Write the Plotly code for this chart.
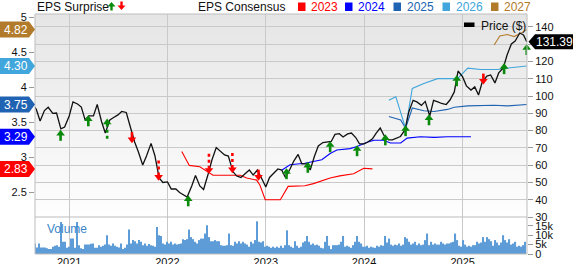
import plotly.graph_objects as go
import pandas as pd

# ---------------- DATA ----------------
price_dates = (["2020-08-27"]
               + [d.strftime("%Y-%m-%d") for d in pd.date_range("2020-09-01", "2025-08-15", freq="SMS")]
               + ["2025-08-27"])
price_values = [
    93.5,
    92.2, 85.6, 91.6, 93.5, 90.0, 90.2, 81.0, 82.1,
    88.5, 96.6, 95.4, 93.6, 86.2, 88.5, 88.5, 95.1, 85.3, 78.6, 86.2, 87.6,
    89.1, 91.1, 90.5, 82.7, 73.4, 67.6, 60.1, 65.3, 72.6, 65.6, 52.6, 50.0,
    50.3, 46.2, 46.2, 44.2, 43.0, 41.6, 48.0, 54.0, 48.0, 45.9, 54.9, 63.0,
    70.2, 68.5, 65.9, 65.3, 56.3, 53.7, 52.9, 54.9, 57.2, 54.3, 57.2, 52.9,
    47.4, 52.9, 55.5, 57.8, 57.2, 52.9, 57.8, 62.4, 66.2, 60.7, 60.7, 57.2,
    65.3, 71.1, 73.1, 73.4, 73.7, 77.8, 78.2, 76.3, 78.1, 78.6, 76.0, 72.3,
    72.3, 73.4, 75.2, 78.6, 81.5, 77.2, 74.6, 74.6, 75.7, 76.6, 80.4, 90.8,
    97.5, 96.6, 94.6, 96.9, 88.5, 97.5, 96.6, 95.7, 95.1, 97.7, 102.4, 114.5,
    111.1, 105.9, 103.5, 105.3, 100.6, 108.2, 111.6, 112.2, 107.6, 113.4, 116.3, 123.8,
    130.2, 131.9, 136.5, 135.4,
    131.39,
]
last_price = 131.39

eps_2023_dates = ["2022-02-23", "2022-03-23", "2022-05-01", "2022-06-01", "2022-06-19", "2022-09-28",
                  "2022-10-22", "2022-11-28", "2022-12-10", "2022-12-30", "2023-02-24", "2023-03-25",
                  "2023-05-26", "2023-06-27", "2023-08-28", "2023-10-03", "2023-11-23", "2023-12-31",
                  "2024-02-01"]
eps_2023 = [3.08, 2.88, 2.86, 2.79, 2.74, 2.74, 2.70, 2.67, 2.60, 2.39, 2.39, 2.58,
            2.59, 2.62, 2.70, 2.73, 2.76, 2.84, 2.83]

eps_2024_dates = ["2023-03-01", "2023-04-01", "2023-05-26", "2023-06-28", "2023-07-28", "2023-08-28",
                  "2023-09-22", "2023-11-10", "2023-12-06", "2024-01-19", "2024-02-07", "2024-03-13",
                  "2024-04-08", "2024-05-16", "2024-06-09", "2024-07-28", "2024-09-17", "2024-11-06",
                  "2025-02-01"]
eps_2024 = [2.81, 2.89, 2.91, 2.94, 2.96, 3.05, 3.10, 3.12, 3.15, 3.22, 3.24, 3.24,
            3.20, 3.20, 3.27, 3.29, 3.28, 3.29, 3.29]

eps_2025_dates = ["2024-04-02", "2024-05-16", "2024-06-03", "2024-06-28", "2024-08-10", "2024-09-17",
                  "2024-11-06", "2024-12-01", "2025-01-20", "2025-03-09", "2025-04-28", "2025-06-16",
                  "2025-08-27"]
eps_2025 = [3.58, 3.53, 3.41, 3.70, 3.66, 3.65, 3.68, 3.71, 3.73, 3.74, 3.74, 3.73, 3.75]

eps_2026_dates = ["2024-04-02", "2024-04-28", "2024-06-03", "2024-06-28", "2024-08-10", "2024-09-30",
                  "2024-12-13", "2025-01-20", "2025-03-09", "2025-05-10", "2025-06-16", "2025-08-27"]
eps_2026 = [3.81, 3.86, 3.41, 3.98, 4.05, 4.12, 4.12, 4.27, 4.25, 4.25, 4.27, 4.30]

eps_2027_dates = ["2025-04-28", "2025-05-19", "2025-06-16", "2025-07-11", "2025-08-06", "2025-08-27"]
eps_2027 = [4.60, 4.73, 4.75, 4.72, 4.77, 4.82]

eps_years = ["2023", "2024", "2025", "2026", "2027"]
eps_current = [2.83, 3.29, 3.75, 4.30, 4.82]

surprise_dates = ["2020-11-30", "2021-03-13", "2021-05-22", "2021-08-22", "2021-11-29", "2022-03-19",
                  "2022-06-04", "2022-08-30", "2022-12-05", "2023-03-19", "2023-06-06", "2023-08-28",
                  "2023-12-06", "2024-03-20", "2024-06-03", "2024-08-29", "2024-12-10", "2025-03-19",
                  "2025-06-04", "2025-08-27"]
surprise_price = [78.3, 86.7, 84.8, 74.9, 53.2, 40.4, 57.2, 57.5, 53.2, 56.1, 59.8, 71.7,
                  69.4, 75.7, 81.0, 87.3, 109.9, 108.8, 116.9, 127.9]
surprise_dir = ["up", "up", "up", "down", "down", "up", "down", "down", "down", "up", "up", "up",
                "up", "up", "up", "up", "up", "down", "up", "up"]
surprise_big = [False, False, True, False, True, False, True, True, False, False, False, False,
                False, False, False, False, False, False, False, False]

# weekly volume in thousands
volume_k = [
    5.6, 3.5, 5.6, 3.5, 3.5, 3.5, 3.0, 2.6, 2.6, 3.9, 4.4, 4.7, 3.9, 17, 6.5,
    6.5, 3.3, 3.9, 8.2, 8.2, 3.3, 17, 4.7, 3.0, 2.6, 5.0, 5.0, 5.0, 5.4, 5.6,
    3.3, 3.3, 4.7, 3.9, 4.4, 5.0, 10, 5.0, 4.4, 5.6, 4.4, 3.9, 3.5, 5.6, 2.6,
    3.3, 5.0, 13, 5.6, 7.4, 6.8, 5.6, 7.4, 6.5, 4.7, 5.6, 4.4, 5.3, 4.7, 4.4,
    3.9, 14.4, 10, 9.6, 5.6, 5.0, 6.5, 5.6, 6.5, 5.0, 5.6, 5.0, 5.3, 5.6, 7.9,
    7.4, 7.9, 13, 9.0, 7.9, 6.5, 5.6, 7.4, 8.2, 8.2, 10.9, 15.3, 9.0, 6.8, 6.8,
    7.4, 6.8, 6.8, 4.7, 4.4, 4.4, 4.7, 10.9, 4.7, 4.4, 6.5, 5.6, 6.8, 5.6, 6.5,
    5.6, 5.0, 3.9, 6.5, 5.6, 7.4, 17.4, 6.5, 6.1, 6.8, 3.9, 4.4, 3.9, 3.3, 3.9,
    3.3, 3.9, 3.3, 4.4, 3.3, 4.7, 12.6, 4.7, 3.9, 3.3, 6.8, 4.4, 3.3, 3.9, 6.1,
    6.8, 9.6, 6.5, 5.0, 5.6, 4.7, 5.0, 4.4, 3.3, 3.0, 6.5, 9.6, 4.4, 2.6, 4.7,
    4.7, 4.7, 5.0, 6.5, 9.6, 3.9, 4.4, 3.9, 3.3, 4.7, 6.5, 9.6, 6.5, 5.6, 3.9,
    3.9, 4.4, 3.3, 3.9, 3.5, 3.3, 4.4, 3.9, 4.7, 4.4, 9.6, 6.1, 8.2, 5.0, 4.4,
    5.0, 4.7, 5.6, 4.4, 5.0, 9.0, 8.2, 6.5, 5.0, 5.6, 6.5, 4.7, 5.6, 4.7, 5.0,
    7.4, 10.9, 4.7, 6.5, 5.0, 5.6, 5.0, 5.0, 6.5, 5.6, 5.0, 5.6, 5.6, 6.1, 6.5,
    10.9, 7.4, 4.4, 3.9, 7.4, 5.0, 3.9, 4.4, 3.9, 4.7, 4.7, 6.5, 5.6, 6.1, 9.0,
    6.5, 9.0, 7.9, 6.8, 4.4, 7.4, 6.1, 4.7, 6.1, 10, 7.4, 6.1, 7.9, 5.0, 5.6,
    6.5, 3.9, 4.4, 3.9, 4.7, 6.5,
]
volume_dates = pd.date_range("2020-08-28", "2025-08-22", periods=len(volume_k))

price_ticks = [30, 40, 50, 60, 70, 80, 90, 100, 110, 120, 130, 140]
eps_ticks = [2.5, 3, 3.5, 4, 4.5, 5]
vol_ticks = [0, 5, 10, 15]
vol_tick_text = ["0", "5k", "10k", "15k"]

# ---------------- STYLE / LAYOUT ----------------
FONT = "Liberation Sans, Arial, Helvetica, sans-serif"
W, H = 573, 264
ML, MR, MT, MB = 35, 46, 14, 10
PW, PH = W - ML - MR, H - MT - MB
SPLIT = (MT + PH - 217) / PH  # price/volume boundary (paper)
PRICE_RANGE = [30, 147.5]
EPS_RANGE = [2.143, 5.043]
VOL_RANGE = [0, 19.7]
X_RANGE = ["2020-08-27", "2025-08-28"]

col = {"2023": "#ff0000", "2024": "#0000ff", "2025": "#2063b2", "2026": "#40a6db", "2027": "#b27b2c"}
GREEN, RED = "#0a8a0a", "#ff0000"
GRID = "#c9c9c9"


def pxx(px):
    return (px - ML) / PW


def pxy(py):
    return (MT + PH - py) / PH


def eps_paper(e):
    return SPLIT + (e - EPS_RANGE[0]) / (EPS_RANGE[1] - EPS_RANGE[0]) * (1 - SPLIT)


def price_paper(p):
    return SPLIT + (p - PRICE_RANGE[0]) / (PRICE_RANGE[1] - PRICE_RANGE[0]) * (1 - SPLIT)


fig = go.Figure()

# volume
fig.add_trace(go.Bar(x=volume_dates, y=volume_k, xaxis="x2", yaxis="y2",
                     marker=dict(color="#5d9cd6", line_width=0), width=5.2 * 86400000,
                     showlegend=False, hoverinfo="skip"))

# EPS consensus lines (base axis y, left)
for yr, d, v in [("2023", eps_2023_dates, eps_2023), ("2024", eps_2024_dates, eps_2024),
                 ("2025", eps_2025_dates, eps_2025), ("2026", eps_2026_dates, eps_2026),
                 ("2027", eps_2027_dates, eps_2027)]:
    fig.add_trace(go.Scatter(x=d, y=v, mode="lines", line=dict(color=col[yr], width=1.1),
                             xaxis="x", yaxis="y", showlegend=False, hoverinfo="skip"))

# price (overlay axis y3, right)
fig.add_trace(go.Scatter(x=price_dates, y=price_values, mode="lines",
                         line=dict(color="#111111", width=1.3), xaxis="x", yaxis="y3",
                         showlegend=False, hoverinfo="skip"))

# surprise arrows
for direction, color, sym in [("up", GREEN, "triangle-up"), ("down", RED, "triangle-down")]:
    for big in [False, True]:
        sx, sy = [], []
        for d, p, dr, b in zip(surprise_dates, surprise_price, surprise_dir, surprise_big):
            if dr != direction or b != big:
                continue
            sgn = -1 if dr == "up" else 1
            length = 9.0 if b else 3.4
            sx += [d, d, None]
            sy += [p + sgn * 0.8, p + sgn * (0.8 + length), None]
        if sx:
            fig.add_trace(go.Scatter(x=sx, y=sy, mode="lines", xaxis="x", yaxis="y3",
                                     line=dict(color=color, width=2.6, dash="dot" if big else "solid"),
                                     showlegend=False, hoverinfo="skip"))
    hx = [d for d, dr in zip(surprise_dates, surprise_dir) if dr == direction]
    hy = [p for p, dr in zip(surprise_price, surprise_dir) if dr == direction]
    fig.add_trace(go.Scatter(x=hx, y=hy, mode="markers", xaxis="x", yaxis="y3",
                             marker=dict(symbol=sym, size=7.5, color=color, line_width=0),
                             showlegend=False, hoverinfo="skip", cliponaxis=False))

shapes = []
# gradient background of price panel
N = 40
for i in range(N):
    t = (i + 0.5) / N
    c = int(round(254 - (254 - 229) * t))
    shapes.append(dict(type="rect", xref="paper", yref="paper", x0=0, x1=1,
                       y0=SPLIT + (1 - SPLIT) * i / N, y1=min(1, SPLIT + (1 - SPLIT) * (i + 1) / N + 0.003),
                       fillcolor=f"rgb({c},{c},{c})", line_width=0, layer="below"))
# frame and separator
shapes.append(dict(type="rect", xref="paper", yref="paper", x0=0, x1=1, y0=0, y1=1,
                   line=dict(color="#bdbdbd", width=1), fillcolor="rgba(0,0,0,0)", layer="above"))
shapes.append(dict(type="line", xref="paper", yref="paper", x0=0, x1=1, y0=SPLIT, y1=SPLIT,
                   line=dict(color="#bdbdbd", width=1), layer="above"))

annotations = []

# EPS badges (left)
for yr, e in zip(eps_years, eps_current):
    yc = eps_paper(e)
    hh = 8 / PH
    x0, x1, xt = pxx(0), pxx(29), pxx(35)
    shapes.append(dict(type="path", xref="paper", yref="paper",
                       path=f"M{x0},{yc + hh} L{x1},{yc + hh} L{xt},{yc} L{x1},{yc - hh} L{x0},{yc - hh} Z",
                       fillcolor=col[yr], line_width=0, layer="above"))
    annotations.append(dict(xref="paper", yref="paper", x=pxx(15.5), y=yc, text=f"{e:.2f}",
                            showarrow=False, xanchor="center", yanchor="middle",
                            font=dict(family=FONT, size=12, color="white")))

# price badge (right)
yc = price_paper(last_price)
hh = 7.5 / PH
xt, x1, x2 = pxx(528.5), pxx(535), pxx(575)
shapes.append(dict(type="path", xref="paper", yref="paper",
                   path=f"M{xt},{yc} L{x1},{yc + hh} L{x2},{yc + hh} L{x2},{yc - hh} L{x1},{yc - hh} Z",
                   fillcolor="#000000", line_width=0, layer="above"))
annotations.append(dict(xref="paper", yref="paper", x=pxx(554), y=yc, text=f"{last_price:.2f}",
                        showarrow=False, xanchor="center", yanchor="middle",
                        font=dict(family=FONT, size=12, color="white")))

# top legend
annotations.append(dict(xref="paper", yref="paper", x=pxx(34.5), y=pxy(7), text="EPS Surprise",
                        showarrow=False, xanchor="left", yanchor="middle",
                        font=dict(family=FONT, size=12, color="#111111")))
# legend arrows
ax0 = 111.5
shapes.append(dict(type="path", xref="paper", yref="paper",
                   path=f"M{pxx(ax0 - 4)},{pxy(6.5)} L{pxx(ax0)},{pxy(2)} L{pxx(ax0 + 4)},{pxy(6.5)} Z",
                   fillcolor=GREEN, line_width=0))
shapes.append(dict(type="rect", xref="paper", yref="paper", x0=pxx(ax0 - 1.2), x1=pxx(ax0 + 1.2),
                   y0=pxy(10.5), y1=pxy(6), fillcolor=GREEN, line_width=0))
ax1 = 121.5
shapes.append(dict(type="path", xref="paper", yref="paper",
                   path=f"M{pxx(ax1 - 4)},{pxy(5.5)} L{pxx(ax1)},{pxy(10)} L{pxx(ax1 + 4)},{pxy(5.5)} Z",
                   fillcolor=RED, line_width=0))
shapes.append(dict(type="rect", xref="paper", yref="paper", x0=pxx(ax1 - 1.2), x1=pxx(ax1 + 1.2),
                   y0=pxy(6), y1=pxy(1.5), fillcolor=RED, line_width=0))

annotations.append(dict(xref="paper", yref="paper", x=pxx(196), y=pxy(7), text="EPS Consensus",
                        showarrow=False, xanchor="left", yanchor="middle",
                        font=dict(family=FONT, size=12, color="#111111")))
leg_x = [298, 345, 393.5, 442.5, 491]
for yr, lx in zip(eps_years, leg_x):
    shapes.append(dict(type="rect", xref="paper", yref="paper", x0=pxx(lx), x1=pxx(lx + 7.5),
                       y0=pxy(11), y1=pxy(2.5), fillcolor=col[yr], line_width=0))
    annotations.append(dict(xref="paper", yref="paper", x=pxx(lx + 11), y=pxy(7), text=yr,
                            showarrow=False, xanchor="left", yanchor="middle",
                            font=dict(family=FONT, size=12, color=col[yr])))

# Price ($) legend inside plot
shapes.append(dict(type="rect", xref="paper", yref="paper", x0=pxx(464), x1=pxx(474.5),
                   y0=pxy(27), y1=pxy(22.5), fillcolor="#000000", line_width=0))
annotations.append(dict(xref="paper", yref="paper", x=pxx(479), y=pxy(25.5), text="Price ($)",
                        showarrow=False, xanchor="left", yanchor="middle",
                        font=dict(family=FONT, size=12, color="#111111")))
# Volume label
annotations.append(dict(xref="paper", yref="paper", x=pxx(45), y=pxy(229), text="Volume",
                        showarrow=False, xanchor="left", yanchor="middle",
                        font=dict(family=FONT, size=12, color="#3a86c8")))

tickfont = dict(family=FONT, size=11, color="#111111")
fig.update_layout(
    width=W, height=H, margin=dict(l=ML, r=MR, t=MT, b=MB, autoexpand=False),
    paper_bgcolor="white", plot_bgcolor="rgba(0,0,0,0)",
    showlegend=False, shapes=shapes, annotations=annotations,
    font=dict(family=FONT, size=11),
    xaxis=dict(domain=[0, 1], anchor="y", range=X_RANGE, type="date", automargin=False,
               showticklabels=False, showgrid=True, gridcolor=GRID, gridwidth=1,
               tick0="2021-01-01", dtick="M12", ticks="", zeroline=False, showline=False),
    xaxis2=dict(domain=[0, 1], anchor="y2", matches="x", range=X_RANGE, type="date", automargin=False,
                showticklabels=True, showgrid=True, gridcolor=GRID, gridwidth=1,
                tick0="2021-01-01", dtick="M12", tickformat="%Y", ticks="", ticklen=0,
                tickfont=tickfont, zeroline=False, showline=False),
    yaxis=dict(domain=[SPLIT, 1], anchor="x", side="left", range=EPS_RANGE, automargin=False,
               tickvals=eps_ticks, ticktext=[f"{t:g}" for t in eps_ticks],
               ticks="outside", ticklen=5, tickcolor="#999999", tickfont=tickfont,
               showgrid=False, zeroline=False, showline=False),
    yaxis3=dict(overlaying="y", anchor="x", side="right", range=PRICE_RANGE, automargin=False,
                tickvals=price_ticks, ticktext=["" if t == 130 else str(t) for t in price_ticks],
                ticks="outside", ticklen=5, tickcolor="#999999", tickfont=tickfont,
                showgrid=True, gridcolor=GRID, gridwidth=1, zeroline=False, showline=False),
    yaxis2=dict(domain=[0, SPLIT], anchor="x2", side="right", range=VOL_RANGE, automargin=False,
                tickvals=vol_ticks, ticktext=vol_tick_text,
                ticks="outside", ticklen=5, tickcolor="#999999", tickfont=tickfont,
                showgrid=False, zeroline=False, showline=False),
)

fig.write_html("out.html")
